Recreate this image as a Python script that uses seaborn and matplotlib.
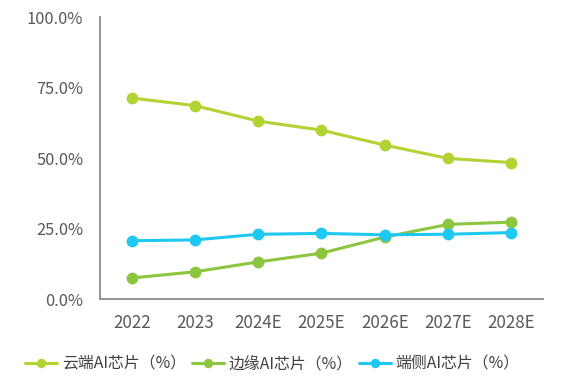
import matplotlib
matplotlib.use("Agg")
import matplotlib.pyplot as plt
import pandas as pd
import seaborn as sns
from matplotlib.ticker import PercentFormatter

years = ["2022", "2023", "2024E", "2025E", "2026E", "2027E", "2028E"]
cloud = [71.3, 68.6, 63.1, 59.9, 54.6, 49.9, 48.4]
edge = [7.5, 9.7, 13.2, 16.3, 22.0, 26.5, 27.3]
device = [20.7, 21.0, 23.0, 23.3, 22.8, 23.0, 23.6]

series = [
    ("云端AI芯片（%）", cloud, "#b3d234"),
    ("边缘AI芯片（%）", edge, "#8cc63e"),
    ("端侧AI芯片（%）", device, "#1ec8f0"),
]

sns.set_style("white")
plt.rcParams["font.family"] = ["Noto Sans CJK SC", "DejaVu Sans"]

fig = plt.figure(figsize=(5.62, 3.87), dpi=100)
ax = fig.add_axes([0.178, 0.227, 0.788, 0.729])

for label, values, color in series:
    df = pd.DataFrame({"year": years, "value": values})
    sns.lineplot(
        data=df, x="year", y="value", ax=ax, sort=False,
        color=color, marker="o", markersize=8.5, markeredgewidth=0,
        linewidth=2.2, label=label,
    )

ax.set_xlim(-0.5, len(years) - 0.5)
ax.set_ylim(0, 100)
ax.set_yticks([0, 25, 50, 75, 100])
ax.yaxis.set_major_formatter(PercentFormatter(decimals=1))
ax.set_xlabel("")
ax.set_ylabel("")
ax.tick_params(axis="y", labelsize=11.8, colors="#595959", length=0, pad=12)
ax.tick_params(axis="x", labelsize=12.2, colors="#595959", length=0, pad=11)

sns.despine(ax=ax)
for side in ["left", "bottom"]:
    ax.spines[side].set_color("#8c8c8c")
    ax.spines[side].set_linewidth(1.3)

handles, labels = ax.get_legend_handles_labels()
ax.legend(
    handles, labels, loc="lower center", bbox_to_anchor=(0.485, 0.0),
    bbox_transform=fig.transFigure, ncol=3, frameon=False,
    fontsize=11.4, labelcolor="#404040", handlelength=2.0,
    handletextpad=0.3, columnspacing=0.4, markerscale=0.8,
)

fig.savefig("out.png", dpi=100)
